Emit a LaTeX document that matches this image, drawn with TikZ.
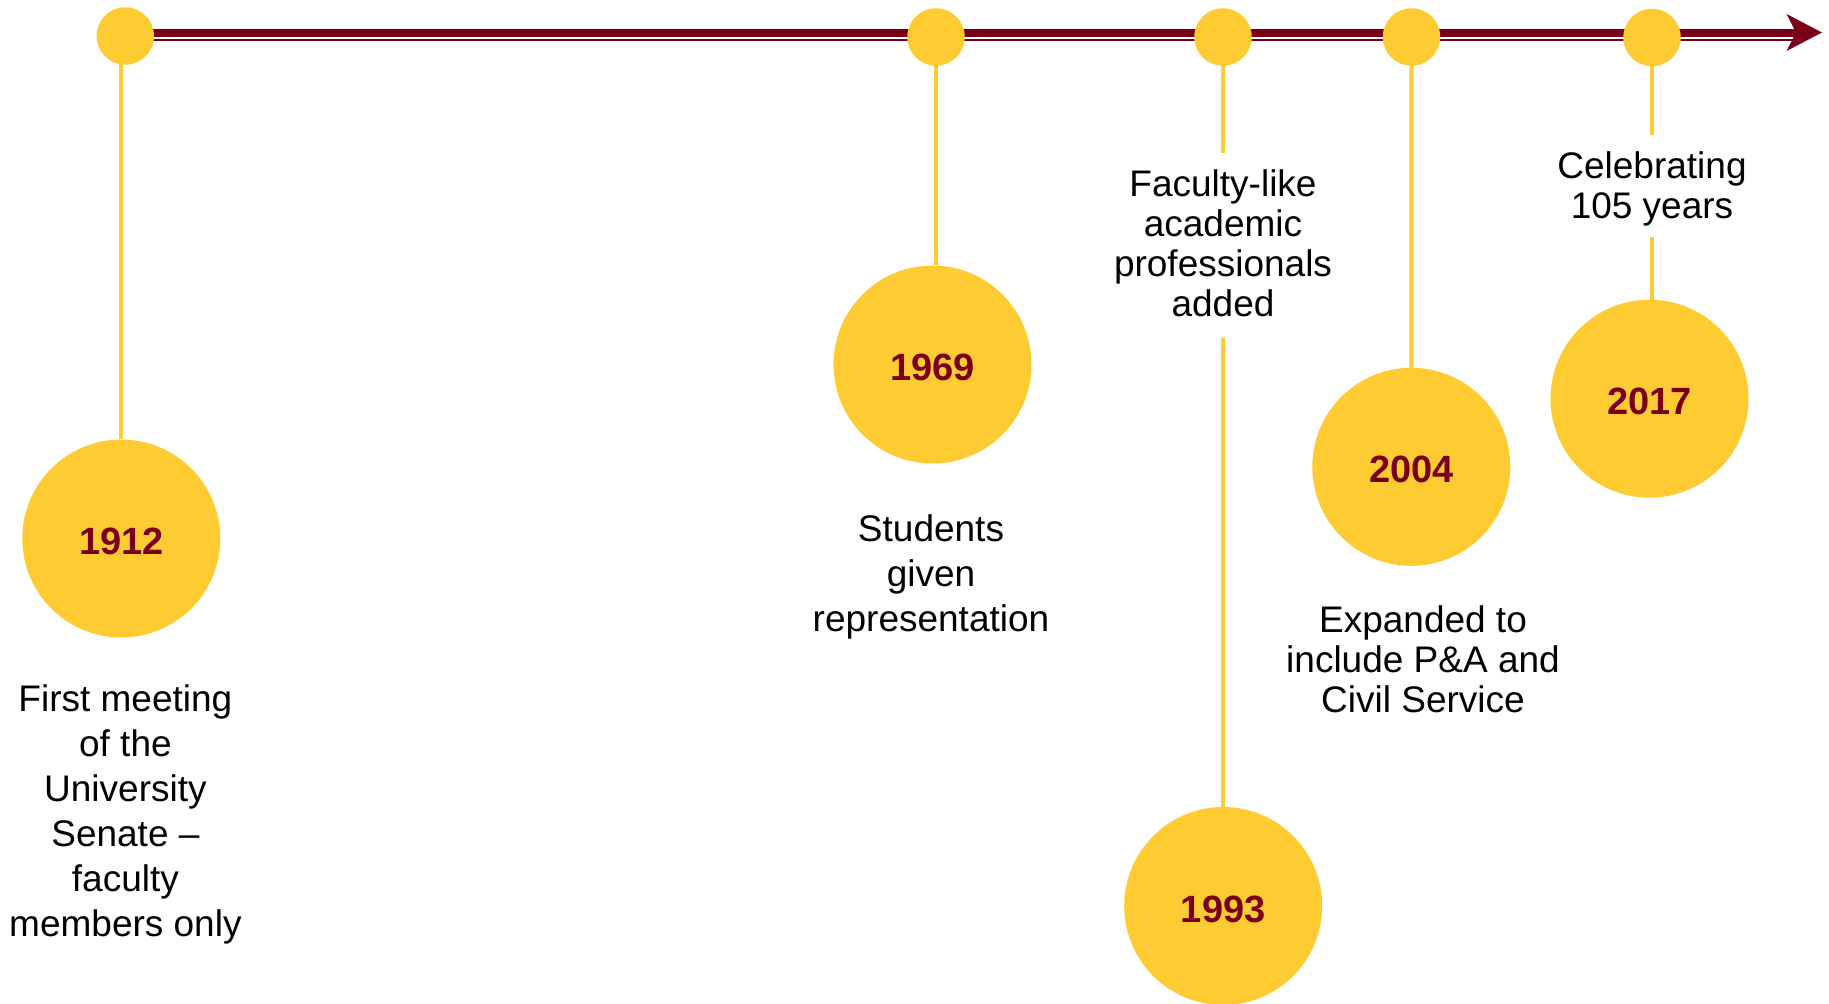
\documentclass[tikz,border=0pt]{standalone}
\usepackage{fontspec}
\setmainfont{Liberation Sans}
\usetikzlibrary{backgrounds}
\definecolor{umaroon}{HTML}{7A0019}
\definecolor{ugold}{HTML}{FFCB33}
\begin{document}
\begin{tikzpicture}[x=1pt,y=-1pt,
  dot/.style={circle,fill=ugold,minimum size=57.5pt,inner sep=0pt},
  yearbub/.style={circle,fill=ugold,minimum size=198pt,inner sep=0pt,text=umaroon,
    text height=32pt,text depth=0pt,font=\bfseries\fontsize{38}{38}\selectfont},
  stem/.style={draw=ugold,line width=4pt},
  lbl/.style={align=center,inner sep=0pt,anchor=north,font=\fontsize{37}{45}\selectfont},
  lbltight/.style={lbl,font=\fontsize{37}{40}\selectfont},
  axis/.style={draw=umaroon,line width=7.5pt},
  axisthin/.style={draw=umaroon,line width=2pt}]
\useasboundingbox (0,0) rectangle (1829,1004);

% small markers on the axis
\node[dot] (s1912) at (125.3,36) {};
\node[dot] (s1969) at (936,37) {};
\node[dot] (s1993) at (1223,37) {};
\node[dot] (s2004) at (1411.5,37) {};
\node[dot] (s2017) at (1652,37.5) {};

% year bubbles
\node[yearbub] (b1912) at (121.3,538.5) {1912};
\node[yearbub] (b1969) at (932.5,364.5) {1969};
\node[yearbub] (b1993) at (1223.2,906) {1993};
\node[yearbub] (b2004) at (1411.3,466.8) {2004};
\node[yearbub] (b2017) at (1649.5,398.7) {2017};

% labels
\node[lbl] (t1912) at (125.4,684) {First meeting\\of the\\University\\Senate –\\faculty\\members only};
\node[lbl] (t1969) at (931,514) {Students\\given\\representation};
\node[lbltight] (t1993) at (1223,169) {Faculty-like\\academic\\professionals\\added};
\node[lbltight] (t2004) at (1423,605) {Expanded to\\include P\&A and\\Civil Service};
\node[lbltight] (t2017) at (1652,151.5) {Celebrating\\105 years};

% gap ends of the stems around labels
\coordinate (g1993a) at (1223,153);
\coordinate (g1993b) at (1223,337.5);
\coordinate (g2017a) at (1652,135);
\coordinate (g2017b) at (1652,237);

% axis end
\coordinate (aend) at (1796,33);
\coordinate (thinend) at (1793,40);
\coordinate (atip) at (1822,32.5);

\begin{scope}[on background layer]
  \draw[axis] (s1912.center |- aend) -- (aend);
  \draw[axisthin] (s1912.center |- thinend) -- (thinend);
  \draw[stem] (b1912.north) -- (b1912.north |- s1912.center);
  \draw[stem] (s1969.center) -- (s1969.center |- b1969.north);
  \draw[stem] (s1993.center) -- (g1993a);
  \draw[stem] (g1993b) -- (b1993.north);
  \draw[stem] (s2004.center) -- (b2004.north);
  \draw[stem] (s2017.center) -- (g2017a);
  \draw[stem] (g2017b) -- (g2017b |- b2017.north);
\end{scope}
\fill[umaroon] (atip) -- (1786.5,14) -- (aend |- atip) -- (1786.5,51) -- cycle;
\end{tikzpicture}
\end{document}
